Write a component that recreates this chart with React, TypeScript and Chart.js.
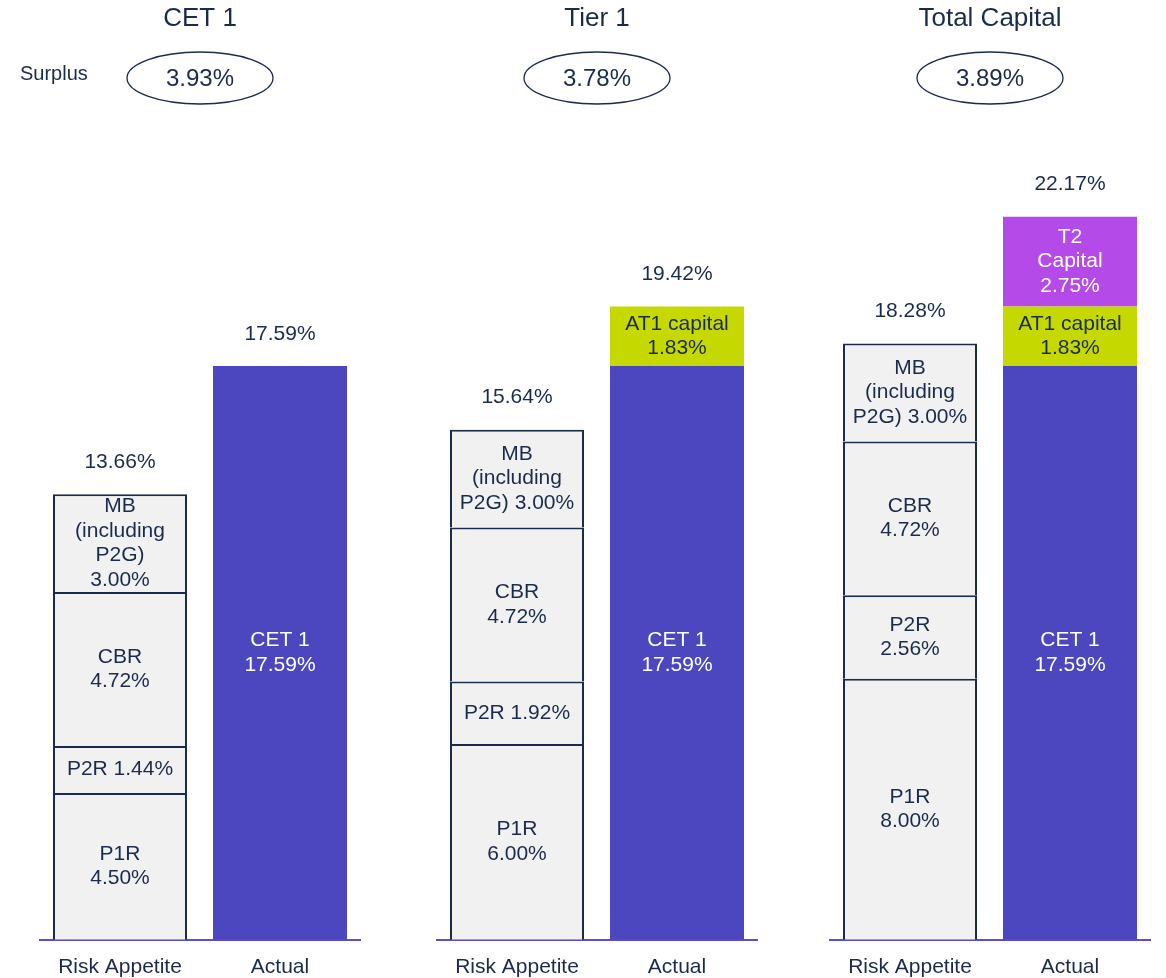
import React, { useEffect, useRef } from "react";
import { Chart, registerables } from "chart.js";

Chart.register(...registerables);

// ---------- data ----------
const categories = ["Risk Appetite", "Actual"];
const panelTitles = ["CET 1", "Tier 1", "Total Capital"];
const surplusValues = ["3.93%", "3.78%", "3.89%"];

const p1rValues = [4.5, 6.0, 8.0];
const p2rValues = [1.44, 1.92, 2.56];
const cbrValues = [4.72, 4.72, 4.72];
const mbValues = [3.0, 3.0, 3.0];
const cet1Values = [17.59, 17.59, 17.59];
const at1Values = [null, 1.83, 1.83];
const t2Values = [null, null, 2.75];

const riskTotals = ["13.66%", "15.64%", "18.28%"];
const actualTotals = ["17.59%", "19.42%", "22.17%"];

const p1rLabels = [["P1R", "4.50%"], ["P1R", "6.00%"], ["P1R", "8.00%"]];
const p2rLabels = [["P2R 1.44%"], ["P2R 1.92%"], ["P2R", "2.56%"]];
const cbrLabels = [["CBR", "4.72%"], ["CBR", "4.72%"], ["CBR", "4.72%"]];
const mbLabels = [
  ["MB", "(including", "P2G)", "3.00%"],
  ["MB", "(including", "P2G) 3.00%"],
  ["MB", "(including", "P2G) 3.00%"],
];
const cet1Labels = [["CET 1", "17.59%"], ["CET 1", "17.59%"], ["CET 1", "17.59%"]];
const at1Labels = [[], ["AT1 capital", "1.83%"], ["AT1 capital", "1.83%"]];
const t2Labels = [[], [], ["T2", "Capital", "2.75%"]];

// ---------- styles ----------
const NAVY = "#1a2b4b";
const BOX_FILL = "#f1f1f1";
const CET1_COLOR = "#4d47bf";
const AT1_COLOR = "#c5d800";
const T2_COLOR = "#b44be8";
const AXIS_COLOR = "#5b50cc";
const FONT = "'Liberation Sans', Arial, sans-serif";

const panelLefts = [0, 397, 790];

function Panel({ idx }: { idx: number }) {
  const ref = useRef<HTMLCanvasElement | null>(null);

  useEffect(() => {
    if (!ref.current) return;
    const riskDs = (label: string, v: number | null) => ({
      label,
      data: [v, null],
      backgroundColor: BOX_FILL,
      borderColor: NAVY,
      borderWidth: { top: 2, left: 2, right: 2, bottom: 0 },
      borderSkipped: false as const,
    });
    const actDs = (label: string, v: number | null, color: string) => ({
      label,
      data: [null, v],
      backgroundColor: color,
      borderWidth: 0,
    });
    const datasets: any[] = [
      riskDs("P1R", p1rValues[idx]),
      riskDs("P2R", p2rValues[idx]),
      riskDs("CBR", cbrValues[idx]),
      riskDs("MB", mbValues[idx]),
      actDs("CET 1", cet1Values[idx], CET1_COLOR),
      actDs("AT1", at1Values[idx], AT1_COLOR),
      actDs("T2", t2Values[idx], T2_COLOR),
    ];
    const segLabels = [
      { lines: p1rLabels[idx], color: NAVY },
      { lines: p2rLabels[idx], color: NAVY },
      { lines: cbrLabels[idx], color: NAVY },
      { lines: mbLabels[idx], color: NAVY },
      { lines: cet1Labels[idx], color: "#ffffff" },
      { lines: at1Labels[idx], color: NAVY },
      { lines: t2Labels[idx], color: "#ffffff" },
    ];
    const totals = [riskTotals[idx], actualTotals[idx]];

    const textPlugin = {
      id: "textPlugin",
      afterDatasetsDraw(chart: any) {
        const ctx = chart.ctx as CanvasRenderingContext2D;
        ctx.save();
        ctx.textAlign = "center";
        ctx.textBaseline = "middle";
        ctx.font = `21px ${FONT}`;
        const lh = 24.5;
        const topY: (number | null)[] = [null, null];
        const topX: number[] = [0, 0];
        chart.data.datasets.forEach((ds: any, di: number) => {
          const meta = chart.getDatasetMeta(di);
          meta.data.forEach((el: any, ci: number) => {
            const v = ds.data[ci];
            if (v == null || v === 0) return;
            const lines = segLabels[di].lines;
            ctx.fillStyle = segLabels[di].color;
            const cy = (el.y + el.base) / 2;
            const start = cy - ((lines.length - 1) * lh) / 2;
            lines.forEach((t: string, li: number) => {
              ctx.fillText(t, el.x, start + li * lh);
            });
            if (topY[ci] == null || el.y < (topY[ci] as number)) {
              topY[ci] = el.y;
              topX[ci] = el.x;
            }
          });
        });
        ctx.fillStyle = NAVY;
        [0, 1].forEach((ci) => {
          if (topY[ci] != null) ctx.fillText(totals[ci], topX[ci], (topY[ci] as number) - 32);
        });

        // header
        const area = chart.chartArea;
        const cx = (area.left + area.right) / 2;
        ctx.font = `26px ${FONT}`;
        ctx.fillText(panelTitles[idx], cx, 19);
        ctx.beginPath();
        ctx.ellipse(cx, 78, 73, 26, 0, 0, Math.PI * 2);
        ctx.lineWidth = 1.3;
        ctx.strokeStyle = NAVY;
        ctx.stroke();
        ctx.font = `24px ${FONT}`;
        ctx.fillText(surplusValues[idx], cx, 79);
        if (idx === 0) {
          ctx.font = `20px ${FONT}`;
          ctx.textAlign = "left";
          ctx.fillText("Surplus", 20, 74);
        }
        ctx.restore();
      },
    };

    const chart = new Chart(ref.current, {
      type: "bar",
      data: { labels: categories, datasets },
      options: {
        responsive: false,
        animation: false,
        layout: { padding: { top: 157, left: 40, right: 40, bottom: -17 } },
        datasets: {
          bar: { barPercentage: 1, categoryPercentage: 0.8375 },
        },
        plugins: {
          legend: { display: false },
          tooltip: { enabled: false },
          title: { display: false },
        },
        scales: {
          x: {
            stacked: true,
            grid: { display: false, drawTicks: false },
            border: { display: true, color: AXIS_COLOR, width: 2 },
            ticks: {
              color: NAVY,
              font: { family: FONT, size: 21 },
              padding: 15,
              maxRotation: 0,
            },
          },
          y: {
            stacked: true,
            display: false,
            min: 0,
            max: 24,
          },
        },
      },
      plugins: [textPlugin],
    } as any);
    return () => chart.destroy();
  }, [idx]);

  return (
    <canvas
      ref={ref}
      width={400}
      height={978}
      style={{ position: "absolute", left: panelLefts[idx], top: 0 }}
    />
  );
}

export default function App() {
  return (
    <div style={{ position: "absolute", left: 0, top: 0, width: 1166, height: 978, background: "#ffffff" }}>
      {[0, 1, 2].map((i) => (
        <Panel key={i} idx={i} />
      ))}
    </div>
  );
}
